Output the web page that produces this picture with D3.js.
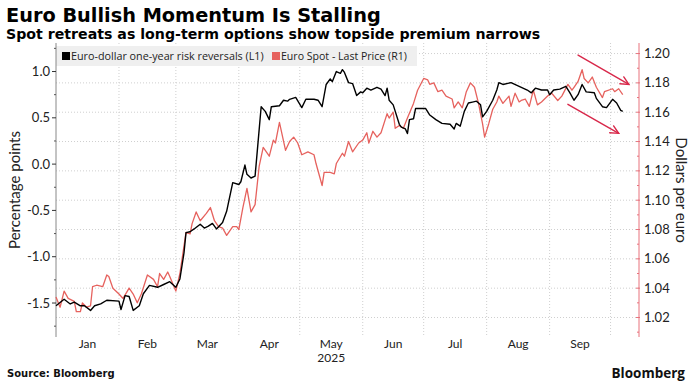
<!DOCTYPE html>
<html><head><meta charset="utf-8">
<script src="https://cdn.jsdelivr.net/npm/d3@7"></script>
<style>body{margin:0;background:#fff}svg{display:block}</style>
</head><body>
<svg id="c" width="692" height="387"></svg>
<script>
// ---------- DATA ----------
const rrDates = ["2025-01-01","2025-01-05","2025-01-08","2025-01-10","2025-01-13","2025-01-15","2025-01-18","2025-01-20","2025-01-23","2025-01-26",
"2025-02-01","2025-02-02","2025-02-04","2025-02-06","2025-02-08","2025-02-11","2025-02-13","2025-02-16","2025-02-20","2025-02-23","2025-02-26",
"2025-03-01","2025-03-03","2025-03-05","2025-03-06","2025-03-08","2025-03-10","2025-03-13","2025-03-15","2025-03-17","2025-03-19","2025-03-21","2025-03-24","2025-03-26","2025-03-29",
"2025-04-01","2025-04-02","2025-04-04","2025-04-05","2025-04-07","2025-04-09","2025-04-11","2025-04-12","2025-04-14","2025-04-16","2025-04-17","2025-04-21","2025-04-23","2025-04-25","2025-04-26","2025-04-29",
"2025-05-02","2025-05-04","2025-05-08","2025-05-10","2025-05-12","2025-05-14","2025-05-16","2025-05-17","2025-05-19","2025-05-21","2025-05-22","2025-05-23","2025-05-25","2025-05-27","2025-05-29","2025-05-31",
"2025-06-01","2025-06-03","2025-06-05","2025-06-08","2025-06-10","2025-06-12","2025-06-13","2025-06-14","2025-06-16","2025-06-19","2025-06-20","2025-06-22","2025-06-23","2025-06-24","2025-06-26","2025-06-27","2025-06-29",
"2025-07-02","2025-07-04","2025-07-07","2025-07-10","2025-07-14","2025-07-16","2025-07-17","2025-07-19","2025-07-21","2025-07-23","2025-07-25","2025-07-27","2025-07-29","2025-07-30",
"2025-08-01","2025-08-04","2025-08-06","2025-08-07","2025-08-09","2025-08-13","2025-08-17","2025-08-21","2025-08-23","2025-08-25","2025-08-28","2025-08-31",
"2025-09-01","2025-09-03","2025-09-06","2025-09-09","2025-09-11","2025-09-13","2025-09-15","2025-09-17","2025-09-19","2025-09-23","2025-09-24","2025-09-27","2025-09-29",
"2025-10-02","2025-10-04","2025-10-06","2025-10-07"];
const rrValues = [-1.53,-1.46,-1.51,-1.49,-1.53,-1.53,-1.58,-1.53,-1.51,-1.47,
-1.48,-1.57,-1.42,-1.43,-1.58,-1.53,-1.40,-1.31,-1.33,-1.30,-1.27,
-1.33,-1.24,-0.96,-0.74,-0.73,-0.70,-0.65,-0.69,-0.67,-0.64,-0.70,-0.63,-0.51,-0.20,
-0.22,-0.19,-0.01,-0.11,-0.15,-0.13,0.37,0.62,0.57,0.48,0.62,0.63,0.69,0.68,0.70,0.72,
0.61,0.70,0.70,0.69,0.62,0.86,0.92,0.89,1.00,0.98,1.02,0.99,0.88,0.87,0.74,0.78,
0.77,0.82,0.80,0.83,0.81,0.74,0.82,0.69,0.64,0.43,0.40,0.38,0.33,0.48,0.49,0.60,0.60,
0.60,0.53,0.48,0.44,0.43,0.38,0.44,0.41,0.57,0.66,0.67,0.68,0.64,0.51,
0.57,0.69,0.80,0.88,0.86,0.88,0.84,0.80,0.77,0.82,0.80,0.80,
0.75,0.80,0.81,0.84,0.77,0.69,0.75,0.86,0.78,0.77,0.71,0.62,0.61,
0.70,0.66,0.58,0.57];

const spotDates = ["2025-01-01","2025-01-03","2025-01-05","2025-01-07","2025-01-10","2025-01-11","2025-01-13","2025-01-14","2025-01-16","2025-01-18","2025-01-19","2025-01-21","2025-01-24","2025-01-26","2025-01-27","2025-01-29",
"2025-02-01","2025-02-03","2025-02-06","2025-02-08","2025-02-10","2025-02-12","2025-02-15","2025-02-18","2025-02-20","2025-02-21","2025-02-23","2025-02-25","2025-02-26",
"2025-03-01","2025-03-03","2025-03-06","2025-03-08","2025-03-09","2025-03-11","2025-03-13","2025-03-16","2025-03-18","2025-03-20","2025-03-22","2025-03-24","2025-03-26","2025-03-29","2025-03-31",
"2025-04-01","2025-04-03","2025-04-05","2025-04-07","2025-04-09","2025-04-11","2025-04-13","2025-04-16","2025-04-18","2025-04-19","2025-04-21","2025-04-24","2025-04-26","2025-04-28","2025-04-30",
"2025-05-02","2025-05-05","2025-05-08","2025-05-09","2025-05-12","2025-05-13","2025-05-16","2025-05-18","2025-05-19","2025-05-22","2025-05-23","2025-05-25","2025-05-27","2025-05-30",
"2025-06-01","2025-06-03","2025-06-04","2025-06-06","2025-06-08","2025-06-10","2025-06-13","2025-06-14","2025-06-16","2025-06-17","2025-06-19","2025-06-21","2025-06-23","2025-06-26","2025-06-28",
"2025-07-01","2025-07-03","2025-07-04","2025-07-06","2025-07-08","2025-07-10","2025-07-12","2025-07-15","2025-07-16","2025-07-18","2025-07-20","2025-07-22","2025-07-24","2025-07-26","2025-07-28","2025-07-30","2025-07-31",
"2025-08-02","2025-08-04","2025-08-06","2025-08-07","2025-08-09","2025-08-12","2025-08-13","2025-08-15","2025-08-17","2025-08-18","2025-08-20","2025-08-22","2025-08-24","2025-08-26","2025-08-28","2025-08-31",
"2025-09-02","2025-09-05","2025-09-07","2025-09-10","2025-09-12","2025-09-13","2025-09-15","2025-09-17","2025-09-18","2025-09-20","2025-09-22","2025-09-24","2025-09-27","2025-09-28",
"2025-10-02","2025-10-03","2025-10-05","2025-10-07"];
const spotValues = [1.034,1.027,1.038,1.033,1.031,1.024,1.024,1.030,1.027,1.028,1.041,1.042,1.041,1.049,1.048,1.040,
1.036,1.033,1.040,1.036,1.030,1.036,1.049,1.046,1.041,1.050,1.046,1.051,1.048,
1.038,1.050,1.078,1.077,1.084,1.092,1.086,1.091,1.095,1.086,1.082,1.081,1.076,1.082,1.082,
1.080,1.095,1.108,1.092,1.097,1.123,1.136,1.130,1.141,1.139,1.153,1.134,1.140,1.143,1.139,
1.131,1.133,1.131,1.125,1.110,1.119,1.119,1.118,1.125,1.132,1.130,1.140,1.133,1.139,
1.141,1.146,1.139,1.147,1.143,1.146,1.159,1.156,1.160,1.149,1.151,1.149,1.156,1.166,1.175,
1.183,1.182,1.179,1.180,1.174,1.175,1.171,1.169,1.163,1.167,1.163,1.174,1.180,1.177,1.166,1.152,1.143,
1.152,1.162,1.167,1.171,1.166,1.171,1.164,1.173,1.167,1.168,1.169,1.164,1.175,1.165,1.167,1.171,
1.173,1.168,1.171,1.179,1.175,1.177,1.181,1.189,1.183,1.180,1.184,1.177,1.170,1.174,
1.176,1.174,1.176,1.172];

const monthLabels = ["Jan","Feb","Mar","Apr","May","Jun","Jul","Aug","Sep"];
const monthStarts = ["2025-01-01","2025-02-01","2025-03-01","2025-04-01","2025-05-01","2025-06-01","2025-07-01","2025-08-01","2025-09-01","2025-10-01"];
const yearLabel = "2025";
const leftTicks = [-1.5,-1.0,-0.5,0.0,0.5,1.0];
const leftMinorTicks = [-1.75,-1.25,-0.75,-0.25,0.25,0.75,1.25];
const rightTicks = [1.02,1.04,1.06,1.08,1.10,1.12,1.14,1.16,1.18,1.20];
const rightMinorTicks = [1.01,1.03,1.05,1.07,1.09,1.11,1.13,1.15,1.17,1.19];
// annotation arrows: [startDate, startValue(R1), endDate, endValue(R1)]
const arrowUpper = ["2025-09-15",1.199,"2025-10-10",1.179];
const arrowLower = ["2025-09-10",1.1654,"2025-10-05",1.1456];

// ---------- CHART ----------
const parse = d3.timeParse("%Y-%m-%d");
const svg = d3.select("#c");
const L=56, R=639, T=43, B=337;
const x = d3.scaleTime().domain([parse("2025-01-01"), parse("2025-10-15")]).range([L,R]);
const yL = d3.scaleLinear().domain([-1.867, 1.308]).range([B,T]);
const yR = d3.scaleLinear().domain([1.0067, 1.2072]).range([B,T]);

const gridC = "#cfcfcf";
const axisRed = "#e8737d";
const redC = "#e6625e";
const arrowC = "#d8284a";
const txtC = "#222";
const ff = "Lato, 'Noto Sans', sans-serif";

function fitText(sel, target){ const w=sel.node().getComputedTextLength(); const fs=+sel.attr("font-size"); sel.attr("font-size", fs*target/w); }

// gridlines
svg.append("g").selectAll("line").data(rightTicks).join("line")
  .attr("x1",L).attr("x2",R).attr("y1",d=>yR(d)).attr("y2",d=>yR(d))
  .attr("stroke",gridC).attr("stroke-dasharray","1,2").attr("stroke-width",1);
svg.append("g").selectAll("line").data(monthStarts.slice(1)).join("line")
  .attr("x1",d=>x(parse(d))).attr("x2",d=>x(parse(d))).attr("y1",T).attr("y2",B)
  .attr("stroke",gridC).attr("stroke-dasharray","1,2").attr("stroke-width",1);

// legend box
const lg = svg.append("g");
lg.append("rect").attr("x",L).attr("y",46).attr("width",361).attr("height",20).attr("fill","#efefef");
lg.append("rect").attr("x",62).attr("y",52).attr("width",8).attr("height",8).attr("fill","#000");
const lt1 = lg.append("text").attr("x",71).attr("y",60).attr("font-family","'Open Sans', sans-serif").attr("font-size",11).attr("fill",txtC)
  .text("Euro-dollar one-year risk reversals (L1)");
fitText(lt1,193);
lg.append("rect").attr("x",272).attr("y",52).attr("width",8).attr("height",8).attr("fill",redC);
const lt2 = lg.append("text").attr("x",281).attr("y",60).attr("font-family","'Open Sans', sans-serif").attr("font-size",11).attr("fill",txtC)
  .text("Euro Spot - Last Price (R1)");
fitText(lt2,126);

// left axis
const la = svg.append("g");
la.append("line").attr("x1",L).attr("x2",L).attr("y1",T).attr("y2",B).attr("stroke","#888");
la.selectAll(".maj").data(leftTicks).join("line").attr("x1",L-4).attr("x2",L).attr("y1",d=>yL(d)).attr("y2",d=>yL(d)).attr("stroke","#333");
la.selectAll(".min").data(leftMinorTicks.filter(d=>yL(d)>=T)).join("line").attr("class","min").attr("x1",L-2).attr("x2",L).attr("y1",d=>yL(d)).attr("y2",d=>yL(d)).attr("stroke","#555");
la.selectAll("text").data(leftTicks).join("text").attr("x",L-6).attr("y",d=>yL(d)+4.5)
  .attr("text-anchor","end").attr("font-family",ff).attr("font-size",13).attr("fill",txtC)
  .text(d=>d3.format(".1f")(d).replace("−","-"));
svg.append("text").attr("transform",`translate(20,${(T+B)/2}) rotate(-90)`).attr("text-anchor","middle")
  .attr("font-family",ff).attr("font-size",15).attr("fill",txtC).text("Percentage points");

// right axis
const ra = svg.append("g");
ra.append("line").attr("x1",R).attr("x2",R).attr("y1",T).attr("y2",B).attr("stroke",axisRed);
ra.selectAll(".maj").data(rightTicks).join("line").attr("x1",R-3).attr("x2",R+1).attr("y1",d=>yR(d)).attr("y2",d=>yR(d)).attr("stroke",axisRed);
ra.selectAll(".min").data(rightMinorTicks).join("line").attr("class","min").attr("x1",R-2).attr("x2",R).attr("y1",d=>yR(d)).attr("y2",d=>yR(d)).attr("stroke",axisRed);
ra.selectAll("text").data(rightTicks).join("text").attr("x",R+5).attr("y",d=>yR(d)+4.5)
  .attr("font-family",ff).attr("font-size",13).attr("fill",txtC).text(d=>d3.format(".2f")(d));
svg.append("text").attr("transform",`translate(676,${(T+B)/2}) rotate(90)`).attr("text-anchor","middle")
  .attr("font-family",ff).attr("font-size",15).attr("fill",txtC).text("Dollars per euro");

// x labels
const starts = monthStarts.map(parse);
svg.append("g").selectAll("text").data(monthLabels).join("text")
  .attr("x",(d,i)=>(x(starts[i])+x(starts[i+1]))/2).attr("y",348).attr("text-anchor","middle")
  .attr("font-family",ff).attr("font-size",12).attr("fill",txtC).text(d=>d);
svg.append("text").attr("x",(x(starts[4])+x(starts[5]))/2).attr("y",362).attr("text-anchor","middle")
  .attr("font-family",ff).attr("font-size",12).attr("fill",txtC).text(yearLabel);

// series
const spotData = spotDates.map((d,i)=>({d:parse(d),v:spotValues[i]}));
const rrData = rrDates.map((d,i)=>({d:parse(d),v:rrValues[i]}));
svg.append("path").datum(spotData).attr("fill","none").attr("stroke",redC).attr("stroke-width",1.3)
  .attr("stroke-linejoin","round").attr("d",d3.line().x(p=>x(p.d)).y(p=>yR(p.v)));
svg.append("path").datum(rrData).attr("fill","none").attr("stroke","#000").attr("stroke-width",1.4)
  .attr("stroke-linejoin","round").attr("d",d3.line().x(p=>x(p.d)).y(p=>yL(p.v)));

// arrows
function arrow(a){
  const x1=x(parse(a[0])), y1=yR(a[1]), x2=x(parse(a[2])), y2=yR(a[3]);
  const ang=Math.atan2(y2-y1,x2-x1), h=9, s=0.45;
  const g=svg.append("g").attr("stroke",arrowC).attr("stroke-width",1.4).attr("fill","none").attr("stroke-linecap","round");
  g.append("line").attr("x1",x1).attr("y1",y1).attr("x2",x2).attr("y2",y2);
  g.append("path").attr("d",`M${x2-h*Math.cos(ang-s)},${y2-h*Math.sin(ang-s)}L${x2},${y2}L${x2-h*Math.cos(ang+s)},${y2-h*Math.sin(ang+s)}`);
}
arrow(arrowUpper); arrow(arrowLower);

// titles
const t1 = svg.append("text").attr("x",6).attr("y",22).attr("font-family","'DejaVu Sans', sans-serif").attr("font-weight","bold")
  .attr("font-size",20).attr("fill","#000").text("Euro Bullish Momentum Is Stalling");
fitText(t1,375);
const t2 = svg.append("text").attr("x",6).attr("y",39).attr("font-family","'DejaVu Sans', sans-serif").attr("font-weight","bold")
  .attr("font-size",14).attr("fill","#000").text("Spot retreats as long-term options show topside premium narrows");
fitText(t2,535);
svg.append("text").attr("x",7).attr("y",377).attr("font-family","'DejaVu Sans', sans-serif").attr("font-weight","bold")
  .attr("font-size",10).attr("fill","#111").text("Source: Bloomberg");
svg.append("text").attr("x",685).attr("y",378).attr("text-anchor","end").attr("font-family","'Open Sans', sans-serif").attr("font-weight","bold")
  .attr("font-size",13.5).attr("fill","#111").text("Bloomberg");
</script>
</body></html>
